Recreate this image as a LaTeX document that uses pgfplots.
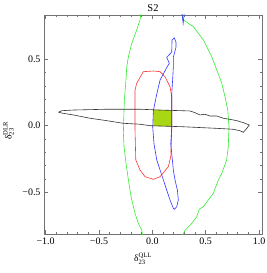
\documentclass[border=0pt]{standalone}
\usepackage{amsmath}
\usepackage{fontspec}
\setmainfont{Liberation Serif}
\usepackage{pgfplots}
\pgfplotsset{compat=1.18}
\definecolor{cgreen}{rgb}{0.2,0.92,0.2}
\definecolor{cred}{rgb}{1,0.2,0.2}
\definecolor{cblue}{rgb}{0.2,0.2,1}
\definecolor{cfill}{RGB}{170,215,20}
\begin{document}
\begin{tikzpicture}
\path[use as bounding box] (-44bp,-39bp) rectangle (223bp,234bp);
\begin{axis}[
  at={(0,0)}, anchor=south west,
  scale only axis, width=218bp, height=219bp,
  xmin=-1.015, xmax=1.028, ymin=-0.816, ymax=0.834,
  xtick={-1,-0.5,0,0.5,1},
  xticklabels={−1.0,−0.5,0.0,0.5,1.0},
  ytick={-0.5,0,0.5},
  yticklabels={−0.5,0.0,0.5},
  minor tick num=4,
  tick align=inside,
  major tick length=4bp, minor tick length=2bp,
  axis line style={black!55},
  tick style={black!55, line width=0.5bp},
  ticklabel style={font=\fontsize{10}{12}\selectfont},
  title={S2},
  title style={font=\fontsize{10.5}{12}\selectfont, at={(0.5,1)}, anchor=base, yshift=-2bp},
  xlabel={$\text{δ}^{\text{QLL}}_{\text{23}}$},
  ylabel={$\text{δ}^{\text{DLR}}_{\text{23}}$},
  label style={font=\fontsize{9.5}{12}\selectfont},
  xlabel style={xshift=-10bp, yshift=-2bp},
  ylabel style={xshift=-6bp},
  ylabel shift=2bp,
  clip=true,
]
\addplot[fill=cfill, draw=none] coordinates {(0.01,-0.003)(0.18,-0.006)(0.18,0.116)(0.01,0.118)} -- cycle;
% green left
\addplot[cgreen, line width=0.6bp] coordinates {
(-0.105,0.86)(-0.115,0.797)(-0.146,0.721)(-0.192,0.621)(-0.224,0.520)(-0.239,0.445)(-0.249,0.320)
(-0.262,0.194)(-0.267,0.068)(-0.271,-0.057)(-0.265,-0.158)(-0.246,-0.283)(-0.224,-0.409)
(-0.199,-0.535)(-0.162,-0.660)(-0.131,-0.736)(-0.099,-0.787)(-0.085,-0.85)};
% green right
\addplot[cgreen, line width=0.6bp] coordinates {
(0.27,0.86)(0.291,0.797)(0.385,0.746)(0.478,0.646)(0.557,0.520)(0.604,0.420)(0.651,0.320)
(0.681,0.219)(0.707,0.118)(0.719,-0.008)(0.712,-0.158)(0.697,-0.258)(0.651,-0.359)
(0.619,-0.409)(0.572,-0.509)(0.478,-0.610)(0.441,-0.628)(0.416,-0.686)(0.370,-0.736)
(0.307,-0.787)(0.27,-0.85)};
% red
\addplot[cred, line width=0.6bp] coordinates {
(0.010,0.412)(-0.084,0.407)(-0.146,0.320)(-0.162,0.269)(-0.162,-0.032)(-0.155,-0.258)
(-0.115,-0.334)(-0.068,-0.384)(0.010,-0.404)(0.073,-0.384)(0.150,-0.309)(0.173,-0.234)
(0.182,-0.032)(0.182,0.219)(0.166,0.294)(0.119,0.369)(0.073,0.407)(0.010,0.412)};
% blue
\addplot[cblue, line width=0.6bp] coordinates {
(0.207,-0.630)(0.229,-0.610)(0.244,-0.560)(0.235,-0.485)(0.213,-0.409)(0.197,-0.334)
(0.188,-0.258)(0.173,-0.138)(0.182,-0.012)(0.182,0.113)(0.182,0.239)(0.192,0.365)
(0.197,0.440)(0.197,0.515)(0.222,0.591)(0.222,0.628)(0.207,0.661)(0.185,0.646)
(0.182,0.555)(0.135,0.515)(0.160,0.470)(0.138,0.442)(0.104,0.390)(0.073,0.345)
(0.042,0.239)(0.010,0.113)(0.004,-0.012)(0.016,-0.138)(0.042,-0.258)(0.073,-0.334)
(0.104,-0.409)(0.135,-0.485)(0.166,-0.560)(0.197,-0.622)(0.207,-0.630)};
\addplot[cblue, line width=0.6bp] coordinates {(0.278,0.85)(0.289,0.77)(0.300,0.85)};
% black
\addplot[black!80, line width=0.6bp] coordinates {
(-0.880,0.101)(-0.848,0.113)(-0.740,0.118)(-0.427,0.124)(-0.115,0.124)(0.073,0.118)
(0.354,0.111)(0.400,0.098)(0.447,0.081)(0.494,0.086)(0.541,0.073)(0.604,0.073)
(0.666,0.056)(0.728,0.048)(0.791,0.038)(0.853,0.023)(0.909,0.005)
(0.885,-0.020)(0.853,-0.050)(0.822,-0.038)(0.759,-0.027)(0.604,-0.020)(0.291,-0.008)
(-0.021,0.000)(-0.115,0.011)(-0.271,0.018)(-0.427,0.038)(-0.583,0.056)(-0.740,0.081)
(-0.833,0.093)(-0.880,0.101)};
\end{axis}
\end{tikzpicture}
\end{document}
